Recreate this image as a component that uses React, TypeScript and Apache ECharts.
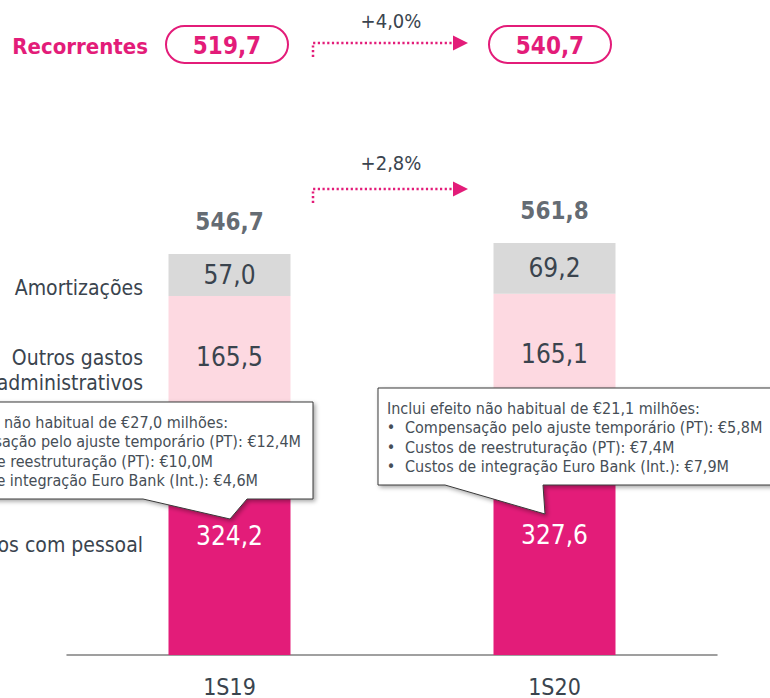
import React, { useEffect, useRef } from "react";
import * as echarts from "echarts";

const categories = ["1S19", "1S20"];
const pessoal = [324.2, 327.6];
const outrosGastos = [165.5, 165.1];
const amortizacoes = [57.0, 69.2];
const totals = [546.7, 561.8];
const recorrentes = [519.7, 540.7];
const growthRecorrentes = "+4,0%";
const growthTotal = "+2,8%";
const rowLabels = ["Custos com pessoal", "Outros gastos\nadministrativos", "Amortizações"];
const notes1 = [
  "Inclui efeito não habitual de €27,0 milhões:",
  "Compensação pelo ajuste temporário (PT): €12,4M",
  "Custos de reestruturação (PT): €10,0M",
  "Custos de integração Euro Bank (Int.): €4,6M",
];
const notes2 = [
  "Inclui efeito não habitual de €21,1 milhões:",
  "Compensação pelo ajuste temporário (PT): €5,8M",
  "Custos de reestruturação (PT): €7,4M",
  "Custos de integração Euro Bank (Int.): €7,9M",
];

const FONT = "'DejaVu Sans Condensed', 'Liberation Sans Narrow', sans-serif";
const PINK = "#e31c79";
const LIGHT = "#fdd9e1";
const GREY = "#d9d9d9";
const DARK = "#3a444e";
const NOTE = "#464e56";

const fmt = (v: number) => v.toFixed(1).replace(".", ",");

function txt(text: string, x: number, y: number, opts: any = {}) {
  return {
    type: "text",
    z: 110,
    style: {
      text,
      x,
      y,
      fill: opts.fill || DARK,
      font: `${opts.bold ? "bold " : ""}${opts.size || 16}px ${FONT}`,
      textAlign: opts.align || "center",
      textVerticalAlign: "middle",
      align: opts.align || "center",
      verticalAlign: "middle",
      lineHeight: opts.lineHeight,
    },
  };
}

function arrow(yLine: number) {
  return [
    {
      type: "polyline",
      z: 100,
      shape: { points: [[313, yLine + 14], [313, yLine], [454, yLine]] },
      style: { stroke: PINK, lineWidth: 2.5, lineDash: [2.2, 2.5], fill: null },
    },
    {
      type: "polygon",
      z: 100,
      shape: { points: [[453, yLine - 7.5], [468, yLine], [453, yLine + 7.5]] },
      style: { fill: PINK },
    },
  ];
}

function callout(points: number[][]) {
  return {
    type: "polygon",
    z: 100,
    shape: { points },
    style: {
      fill: "#ffffff",
      stroke: "#3a3a3a",
      lineWidth: 1,
      shadowBlur: 4,
      shadowOffsetX: 2,
      shadowOffsetY: 2,
      shadowColor: "rgba(0,0,0,0.35)",
    },
  };
}

export default function App() {
  const ref = useRef<HTMLDivElement>(null);
  useEffect(() => {
    const chart = echarts.init(ref.current!, null, { renderer: "svg" });
    const lineH = 19.5;
    const ends1 = [228, 301, 213, 258];
    const graphic: any[] = [
      // top "Recorrentes" row
      txt("Recorrentes", 148, 46, { fill: PINK, bold: true, size: 22, align: "right" }),
      {
        type: "rect",
        z: 100,
        shape: { x: 166, y: 26, width: 122, height: 37, r: 18.5 },
        style: { fill: "#fff", stroke: PINK, lineWidth: 2 },
      },
      txt(fmt(recorrentes[0]), 227, 45.5, { fill: PINK, bold: true, size: 24 }),
      {
        type: "rect",
        z: 100,
        shape: { x: 489, y: 26, width: 122, height: 37, r: 18.5 },
        style: { fill: "#fff", stroke: PINK, lineWidth: 2 },
      },
      txt(fmt(recorrentes[1]), 550, 45.5, { fill: PINK, bold: true, size: 24 }),
      txt(growthRecorrentes, 391, 21, { fill: DARK, size: 20 }),
      ...arrow(43),
      txt(growthTotal, 391, 163, { fill: DARK, size: 20 }),
      ...arrow(189),
      // row labels
      txt(rowLabels[2], 143, 288, { size: 21, align: "right", fill: DARK }),
      txt(rowLabels[1], 143, 370, { size: 21, align: "right", fill: DARK, lineHeight: 25 }),
      txt(rowLabels[0], 143, 545, { size: 21, align: "right", fill: DARK }),
      // callout 1
      callout([[-10, 402], [313, 402], [313, 499], [247, 499], [230, 519], [143, 499], [-10, 499]]),
      ...notes1.map((t, i) => txt(t, ends1[i], 422 + i * lineH, { size: 16, align: "right", fill: NOTE })),
      // callout 2
      callout([[378, 388], [780, 388], [780, 485], [543, 485], [545, 514], [445, 485], [378, 485]]),
      ...notes2.map((t, i) =>
        i === 0
          ? txt(t, 387, 408, { size: 16, align: "left", fill: NOTE })
          : txt(t, 405, 408 + i * lineH, { size: 16, align: "left", fill: NOTE })
      ),
      ...notes2.slice(1).map((_, i) => txt("•", 391, 408 + (i + 1) * lineH, { size: 16, align: "center", fill: NOTE })),
    ];

    const barLabel = (color: string) => ({
      show: true,
      position: "inside",
      color,
      fontSize: 26,
      fontFamily: FONT,
      formatter: (p: any) => fmt(p.value),
    });

    chart.setOption({
      animation: false,
      grid: { left: 67, right: 53, top: 215, bottom: 42 },
      xAxis: {
        type: "category",
        data: categories,
        axisLine: { lineStyle: { color: "#808080", width: 1.5 } },
        axisTick: { show: false },
        axisLabel: { fontSize: 23, color: DARK, fontFamily: FONT, margin: 20 },
      },
      yAxis: { type: "value", min: 0, max: 600, show: false, splitLine: { show: false } },
      series: [
        {
          type: "bar",
          name: "pessoal",
          stack: "a",
          barWidth: 122,
          data: pessoal,
          itemStyle: { color: PINK },
          label: barLabel("#ffffff"),
        },
        {
          type: "bar",
          name: "outros",
          stack: "a",
          barWidth: 122,
          data: outrosGastos,
          itemStyle: { color: LIGHT },
          label: barLabel(DARK),
        },
        {
          type: "bar",
          name: "amort",
          stack: "a",
          barWidth: 122,
          data: amortizacoes,
          itemStyle: { color: GREY },
          label: barLabel(DARK),
        },
        {
          type: "scatter",
          data: totals,
          symbolSize: 0.1,
          itemStyle: { color: "transparent" },
          label: {
            show: true,
            position: "top",
            distance: 20,
            color: DARK,
            fontSize: 24,
            fontWeight: "bold",
            fontFamily: FONT,
            formatter: (p: any) => fmt(p.value),
          },
        },
      ],
      graphic,
    });
    return () => chart.dispose();
  }, []);
  return (
    <div
      ref={ref}
      style={{ position: "fixed", left: 0, top: 0, width: 770, height: 698, background: "#fff" }}
    />
  );
}
